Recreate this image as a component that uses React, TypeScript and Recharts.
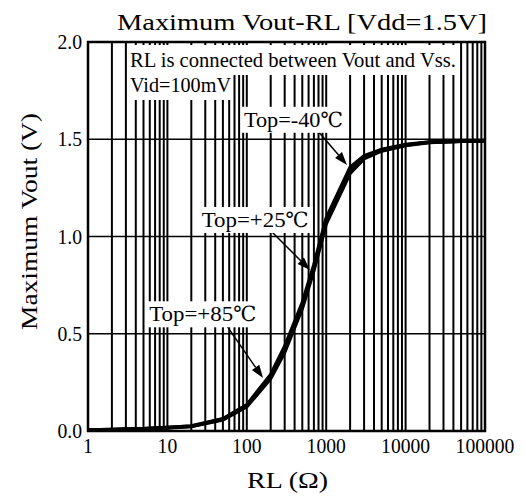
import React from 'react'
import {
  Line,
  LineChart,
  ReferenceArea,
  ReferenceDot,
  ReferenceLine,
  XAxis,
  YAxis
} from 'recharts'

// load resistance (ohm) and maximum output voltage (V) per temperature
const RL = [1, 2, 5, 10, 20, 50, 100, 200, 300, 500, 700, 1000, 2000, 3000, 5000, 10000, 20000, 50000, 100000]
const voutM40 = [0.005, 0.008, 0.012, 0.018, 0.026, 0.063, 0.135, 0.29, 0.435, 0.66, 0.855, 1.095, 1.355, 1.415, 1.448, 1.473, 1.486, 1.49, 1.49]
const vout25 = [0.005, 0.008, 0.012, 0.018, 0.025, 0.06, 0.13, 0.28, 0.42, 0.645, 0.84, 1.08, 1.34, 1.41, 1.445, 1.47, 1.485, 1.49, 1.49]
const vout85 = [0.004, 0.007, 0.011, 0.016, 0.023, 0.057, 0.125, 0.27, 0.405, 0.63, 0.825, 1.065, 1.325, 1.4, 1.44, 1.468, 1.483, 1.49, 1.49]

const xTicks = [1, 10, 100, 1000, 10000, 100000]
const yTicks = [0, 0.5, 1.0, 1.5, 2.0]
const hGrid = [0.5, 1.0, 1.5]
const decades = [1, 10, 100, 1000, 10000]
const mantissas = [1, 2, 3, 4, 5, 6, 7, 8, 9]

// temperature labels and their arrows (data coordinates)
const labelText = ['Top=-40℃', 'Top=+25℃', 'Top=+85℃']
const labelAt = [
  { x: 92, y: 1.6 },
  { x: 27, y: 1.085 },
  { x: 5.9, y: 0.6 }
]
const labelWidth = [105, 113, 113]
const arrowFrom = [
  { x: 766, y: 1.548 },
  { x: 196, y: 1.033 },
  { x: 53, y: 0.555 }
]
const arrowTo = [
  { x: 1828, y: 1.368 },
  { x: 625, y: 0.828 },
  { x: 160, y: 0.272 }
]

const data = RL.map((rl, i) => ({
  rl,
  m40: voutM40[i],
  t25: vout25[i],
  t85: vout85[i]
}))

const vGrid = decades.flatMap((d) => mantissas.map((m) => m * d)).concat([100000])

const FONT = '"Liberation Serif", "DejaVu Serif Condensed", "DejaVu Serif", serif'

// approximate glyph widths of the reference's serif font
const textWidth = (s: string) =>
  s.split('').reduce((w, c) => w + (c === '.' ? 5 : 9.8), 0)

function XTick(props: any) {
  const { x, y, payload } = props
  const s = String(payload.value)
  return (
    <text
      x={x}
      y={y + 14}
      textAnchor="middle"
      fontSize={21}
      fill="#000"
      style={{ fontFamily: FONT }}
      textLength={textWidth(s)}
      lengthAdjust="spacingAndGlyphs"
    >
      {s}
    </text>
  )
}

function YTick(props: any) {
  const { x, y, payload } = props
  const s = Number(payload.value).toFixed(1)
  return (
    <text
      x={x + 2}
      y={y + 7}
      textAnchor="end"
      fontSize={21}
      fill="#000"
      style={{ fontFamily: FONT }}
      textLength={textWidth(s)}
      lengthAdjust="spacingAndGlyphs"
    >
      {s}
    </text>
  )
}

function Arrow(props: any) {
  const { x1, y1, x2, y2 } = props
  const a = Math.atan2(y2 - y1, x2 - x1)
  const len = 13
  const hw = 4.5
  const bx = x2 - len * Math.cos(a)
  const by = y2 - len * Math.sin(a)
  const px = -Math.sin(a) * hw
  const py = Math.cos(a) * hw
  return (
    <g>
      <line x1={x1} y1={y1} x2={bx} y2={by} stroke="#000" strokeWidth={1.5} />
      <polygon
        points={`${x2},${y2} ${bx + px},${by + py} ${bx - px},${by - py}`}
        fill="#000"
      />
    </g>
  )
}

function makeLabel(text: string, w: number) {
  return (props: any) => {
    const { cx, cy } = props
    return (
      <g>
        <rect x={cx - 2} y={cy - 13} width={w} height={26} fill="#fff" />
        <text
          x={cx}
          y={cy + 7}
          style={{ fontFamily: FONT }}
          fontSize={21}
          fill="#000"
          textLength={w - 6}
          lengthAdjust="spacingAndGlyphs"
        >
          {text}
        </text>
      </g>
    )
  }
}

export default function App() {
  return (
    <div style={{ position: 'absolute', left: 0, top: 0, width: 524, height: 500, background: '#fff', fontFamily: FONT }}>
      <LineChart
        width={524}
        height={500}
        data={data}
        margin={{ top: 42, right: 39, left: 0, bottom: 39 }}
      >
        <XAxis
          dataKey="rl"
          type="number"
          scale="log"
          domain={[1, 100000]}
          ticks={xTicks}
          allowDataOverflow
          axisLine={false}
          tickLine={false}
          height={30}
          tick={<XTick />}
        />
        <YAxis
          type="number"
          domain={[0, 2]}
          ticks={yTicks}
          axisLine={false}
          tickLine={false}
          width={88}
          tick={<YTick />}
        />
        {vGrid.map((v) => (
          <ReferenceLine key={`v${v}`} x={v} stroke="#000" strokeWidth={2} />
        ))}
        {hGrid.map((v) => (
          <ReferenceLine key={`h${v}`} y={v} stroke="#000" strokeWidth={1.5} />
        ))}
        <ReferenceArea
          x1={1}
          x2={100000}
          y1={0}
          y2={2}
          fill="none"
          fillOpacity={0}
          stroke="#000"
          strokeWidth={2.5}
        />
        <Line type="linear" dataKey="m40" stroke="#000" strokeWidth={3.5} dot={false} isAnimationActive={false} />
        <Line type="linear" dataKey="t25" stroke="#000" strokeWidth={3.5} dot={false} isAnimationActive={false} />
        <Line type="linear" dataKey="t85" stroke="#000" strokeWidth={3.5} dot={false} isAnimationActive={false} />
        {labelText.map((t, i) => (
          <ReferenceLine
            key={`a${i}`}
            segment={[arrowFrom[i], arrowTo[i]]}
            shape={Arrow}
          />
        ))}
        {labelText.map((t, i) => (
          <ReferenceDot
            key={`l${i}`}
            x={labelAt[i].x}
            y={labelAt[i].y}
            r={0}
            shape={makeLabel(t, labelWidth[i])}
          />
        ))}
      </LineChart>
      <svg
        width={524}
        height={500}
        style={{ position: 'absolute', left: 0, top: 0, pointerEvents: 'none', fontFamily: FONT }}
      >
        <text x={117} y={30} fontSize={24} textLength={370} lengthAdjust="spacingAndGlyphs">
          Maximum Vout-RL [Vdd=1.5V]
        </text>
        <text x={247} y={488} fontSize={24} textLength={81} lengthAdjust="spacingAndGlyphs">
          RL (Ω)
        </text>
        <text
          x={37}
          y={330}
          fontSize={24}
          textLength={217}
          lengthAdjust="spacingAndGlyphs"
          transform="rotate(-90 37 330)"
        >
          Maximum Vout (V)
        </text>
        <rect x={127} y={45} width={331} height={30} fill="#fff" />
        <rect x={127} y={75} width={106} height={25} fill="#fff" />
        <text x={130} y={67} fontSize={21} textLength={326} lengthAdjust="spacingAndGlyphs">
          RL is connected between Vout and Vss.
        </text>
        <text x={130} y={92} fontSize={21} textLength={101} lengthAdjust="spacingAndGlyphs">
          Vid=100mV
        </text>
      </svg>
    </div>
  )
}
